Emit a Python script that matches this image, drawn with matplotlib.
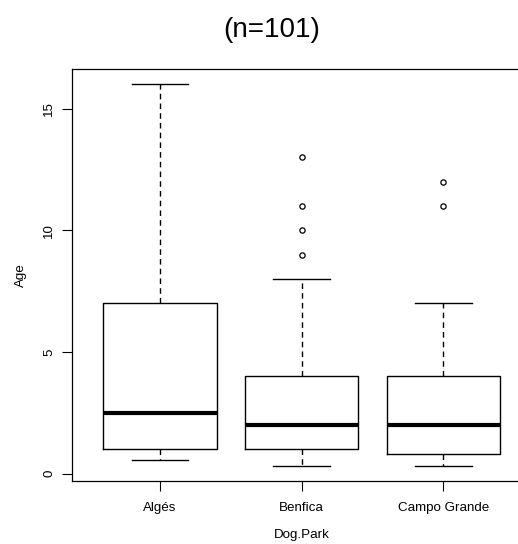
import matplotlib
matplotlib.use("Agg")
import matplotlib.pyplot as plt

# Age by dog park (R style boxplot)
parks = ["Algés", "Benfica", "Campo Grande"]
whislo = [0.58, 0.33, 0.33]
q1 = [1.0, 1.0, 0.83]
med = [2.5, 2.0, 2.0]
q3 = [7.0, 4.0, 4.0]
whishi = [16.0, 8.0, 7.0]
fliers = [[], [9, 10, 11, 13], [11, 12]]

stats = []
for i in range(len(parks)):
    stats.append(dict(label=parks[i], whislo=whislo[i], q1=q1[i], med=med[i],
                      q3=q3[i], whishi=whishi[i], fliers=fliers[i]))

plt.rcParams['font.family'] = ['Liberation Sans', 'DejaVu Sans']

fig = plt.figure(figsize=(5.18, 5.44), dpi=100)
ax = fig.add_axes([72/518, 63/544, 459/518, 412/544])

ax.bxp(stats, positions=[1, 2, 3], widths=0.8, showfliers=True,
       boxprops=dict(color='black', linewidth=1),
       medianprops=dict(color='black', linewidth=3, solid_capstyle='butt'),
       whiskerprops=dict(color='black', linewidth=1, linestyle=(0, (4, 3))),
       capprops=dict(color='black', linewidth=1),
       flierprops=dict(marker='o', markersize=3.8, markerfacecolor='none',
                       markeredgecolor='black', markeredgewidth=0.9))

ax.set_xlim(0.38, 3.62)
ax.set_ylim(-0.297, 16.63)
ax.set_yticks([0, 5, 10, 15])
ax.set_xticks([1, 2, 3])
ax.set_xticklabels(parks)
ax.tick_params(axis='y', labelrotation=90, length=7, width=0.8, labelsize=9.6, pad=5)
ax.tick_params(axis='x', length=7, width=0.8, labelsize=9.6, pad=8)
for lab in ax.get_yticklabels():
    lab.set_verticalalignment('center')
for s in ax.spines.values():
    s.set_linewidth(0.9)

ax.set_ylabel("Age", fontsize=9.6, labelpad=12)
ax.set_xlabel("Dog.Park", fontsize=9.6, labelpad=11)

fig.text(272/518, 1 - 30/544, "(n=101)", fontsize=20, ha='center', va='center')

fig.savefig("out.png", dpi=100)
